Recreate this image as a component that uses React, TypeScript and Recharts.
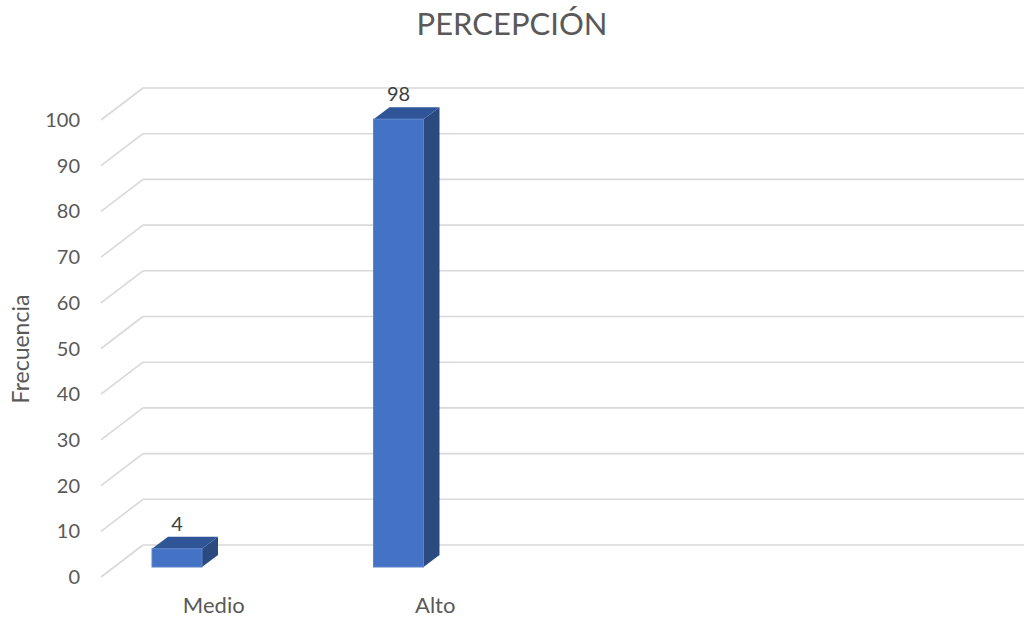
import { BarChart, Bar, XAxis, YAxis, CartesianGrid, LabelList } from 'recharts';

const categories = ['Medio', 'Alto', '', ''];
const frecuencia = [4, 98, null, null];
const yTicks = [0, 10, 20, 30, 40, 50, 60, 70, 80, 90, 100];

const data = categories.map((name, i) => ({ name, value: frecuencia[i] }));

const FONT = 'Lato, "Open Sans", sans-serif';
const TEXT = '#595959';
const GRID = '#D9D9D9';

// 3D look: wall floor depth for the gridlines, box depth for the bars
const WALL_DX = 42;
const WALL_FRONT = 10;
const WALL_BACK = 22;
const BOX_DX = 16;
const BOX_DY = 12;

const W = 1024;
const H = 620;

const GridLine = (props: any) => {
  const { y1, x1 } = props;
  const left = x1 + 35;
  return (
    <g>
      <line x1={left} y1={y1 + WALL_FRONT} x2={left + WALL_DX} y2={y1 - WALL_BACK} stroke={GRID} strokeWidth={1.6} />
      <line x1={left + WALL_DX} y1={y1 - WALL_BACK} x2={W} y2={y1 - WALL_BACK} stroke={GRID} strokeWidth={1.6} />
    </g>
  );
};

const Box = (props: any) => {
  const { x, y, width, height } = props;
  if (height == null || height <= 0) return null;
  return (
    <g>
      <path
        d={`M${x + width},${y} L${x + width + BOX_DX},${y - BOX_DY} L${x + width + BOX_DX},${y + height - BOX_DY} L${x + width},${y + height} Z`}
        fill="#2A4A80"
      />
      <path
        d={`M${x},${y} L${x + BOX_DX},${y - BOX_DY} L${x + width + BOX_DX},${y - BOX_DY} L${x + width},${y} Z`}
        fill="#2F5597"
      />
      <rect x={x} y={y} width={width} height={height} fill="#4472C4" stroke="#5A84CE" strokeWidth={1} />
    </g>
  );
};

const YTick = (props: any) => {
  const { y, payload } = props;
  return (
    <text x={80} y={y + WALL_FRONT} dy={7} textAnchor="end" fill={TEXT} fontSize={20} fontFamily={FONT}>
      {payload.value}
    </text>
  );
};

const XTick = (props: any) => {
  const { x, payload } = props;
  return (
    <text x={x + 37} y={613} textAnchor="middle" fill={TEXT} fontSize={22} fontFamily={FONT}>
      {payload.value}
    </text>
  );
};

const ValueLabel = (props: any) => {
  const { x, y, width, value } = props;
  if (value == null) return null;
  return (
    <text x={x + width / 2} y={y - BOX_DY - 6} textAnchor="middle" fill="#404040" fontSize={20} fontFamily={FONT}>
      {value}
    </text>
  );
};

export default function App() {
  return (
    <div style={{ position: 'relative', width: W, height: H, background: '#fff' }}>
      <style>{'body{margin:0;background:#fff}'}</style>
      <div
        style={{
          position: 'absolute',
          top: 4,
          left: 0,
          width: W,
          textAlign: 'center',
          fontFamily: FONT,
          fontSize: 31,
          color: TEXT,
        }}
      >
        PERCEPCIÓN
      </div>
      <div
        style={{
          position: 'absolute',
          left: 20,
          top: 349,
          transform: 'translate(-50%, -50%) rotate(-90deg)',
          fontFamily: FONT,
          fontSize: 23,
          color: TEXT,
          whiteSpace: 'nowrap',
        }}
      >
        Frecuencia
      </div>
      <BarChart
        width={W}
        height={H}
        data={data}
        margin={{ top: 110, right: 72, bottom: 0, left: 46 }}
        barSize={50}
        style={{ position: 'absolute', top: 0, left: 0 }}
      >
        <CartesianGrid vertical={false} horizontal={GridLine} />
        <YAxis
          width={20}
          domain={[0, 100]}
          ticks={yTicks}
          axisLine={false}
          tickLine={false}
          tick={YTick}
          interval={0}
        />
        <XAxis dataKey="name" height={53} axisLine={false} tickLine={false} tick={XTick} interval={0} />
        <Bar dataKey="value" shape={Box} isAnimationActive={false}>
          <LabelList dataKey="value" content={ValueLabel} />
        </Bar>
      </BarChart>
    </div>
  );
}
